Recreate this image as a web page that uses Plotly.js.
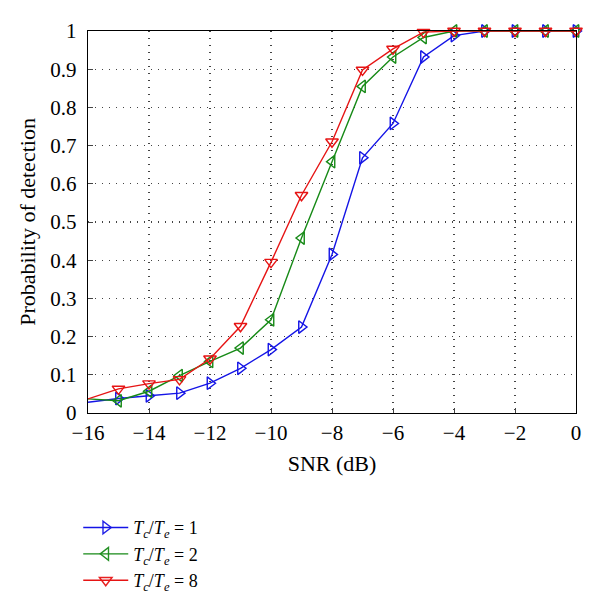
<!DOCTYPE html>
<html>
<head>
<meta charset="utf-8">
<script src="https://cdn.plot.ly/plotly-3.0.1.min.js"></script>
<style>html,body{margin:0;padding:0;background:#fff;}#chart{width:600px;height:596px;}</style>
</head>
<body>
<div id="chart"></div>
<script>
const snr = [-16,-15,-14,-13,-12,-11,-10,-9,-8,-7,-6,-5,-4,-3,-2,-1,0];
const pd1 = [0.028,0.038,0.045,0.052,0.078,0.117,0.166,0.225,0.415,0.668,0.758,0.932,0.988,1,1,1,1];
const pd2 = [0.037,0.032,0.057,0.098,0.135,0.170,0.244,0.458,0.658,0.855,0.932,0.983,1,1,1,1,1];
const pd8 = [0.037,0.063,0.077,0.088,0.142,0.227,0.395,0.570,0.710,0.898,0.953,0.997,1,1,1,1,1];
const names = ['<i>T</i><sub><i>c</i></sub>/<i>T</i><sub><i>e</i></sub> = 1',
               '<i>T</i><sub><i>c</i></sub>/<i>T</i><sub><i>e</i></sub> = 2',
               '<i>T</i><sub><i>c</i></sub>/<i>T</i><sub><i>e</i></sub> = 8'];
const xTicks = [-16,-14,-12,-10,-8,-6,-4,-2,0];
const xTickText = ['\u221216','\u221214','\u221212','\u221210','\u22128','\u22126','\u22124','\u22122','0'];
const yTicks = [0,0.1,0.2,0.3,0.4,0.5,0.6,0.7,0.8,0.9,1];
const yTickText = ['0','0.1','0.2','0.3','0.4','0.5','0.6','0.7','0.8','0.9','1'];

const mop = snr.map((v,i)=> i===0 ? 0 : 1);
function tr(y, name, color, sym){
  return {x: snr, y: y, name: name, type:'scatter', mode:'lines+markers',
    line:{color: color, width:1.4},
    marker:{symbol: sym, size:11, color: color, opacity: mop, line:{color: color, width:1.4}},
    cliponaxis:false};
}
const data = [
  tr(pd1, names[0], '#1414e6', 'triangle-right-open'),
  tr(pd2, names[1], '#178a17', 'triangle-left-open'),
  tr(pd8, names[2], '#e61414', 'triangle-down-open')
];
const SERIF = '"Liberation Serif", "Times New Roman", "DejaVu Serif", serif';
const tickFont = {family:SERIF, size:21, color:'#000'};
const titleFont = {family:SERIF, size:22, color:'#000'};
const layout = {
  width:600, height:596,
  margin:{l:88, r:24, t:31, b:183, autoexpand:false},
  paper_bgcolor:'#fff', plot_bgcolor:'#fff',
  font: tickFont,
  showlegend:true,
  legend:{x:-0.02, y:-0.252, xanchor:'left', yanchor:'top',
    bgcolor:'rgba(0,0,0,0)', itemwidth:45,
    font:{family:SERIF, size:18, color:'#000'}, tracegroupgap:0},
  xaxis:{range:[-16,0], tickvals:xTicks, ticktext:xTickText, ticks:'inside', ticklen:5,
    showline:true, mirror:true, linecolor:'#000', linewidth:1.3, ticklabelstandoff:0,
    showgrid:true, gridcolor:'#444', griddash:'1px,6px', gridwidth:1.2, zeroline:false,
    tickfont:tickFont, title:{text:'SNR (dB)', font:titleFont, standoff:12}},
  yaxis:{range:[0,1], tickvals:yTicks, ticktext:yTickText, ticks:'inside', ticklen:5,
    showline:true, mirror:true, linecolor:'#000', linewidth:1.3, ticklabelstandoff:6,
    showgrid:true, gridcolor:'#444', griddash:'1px,6px', gridwidth:1.2, zeroline:false,
    tickfont:tickFont, title:{text:'Probability of detection', font:titleFont, standoff:8}}
};
Plotly.newPlot('chart', data, layout, {displayModeBar:false, staticPlot:true});
</script>
</body>
</html>
